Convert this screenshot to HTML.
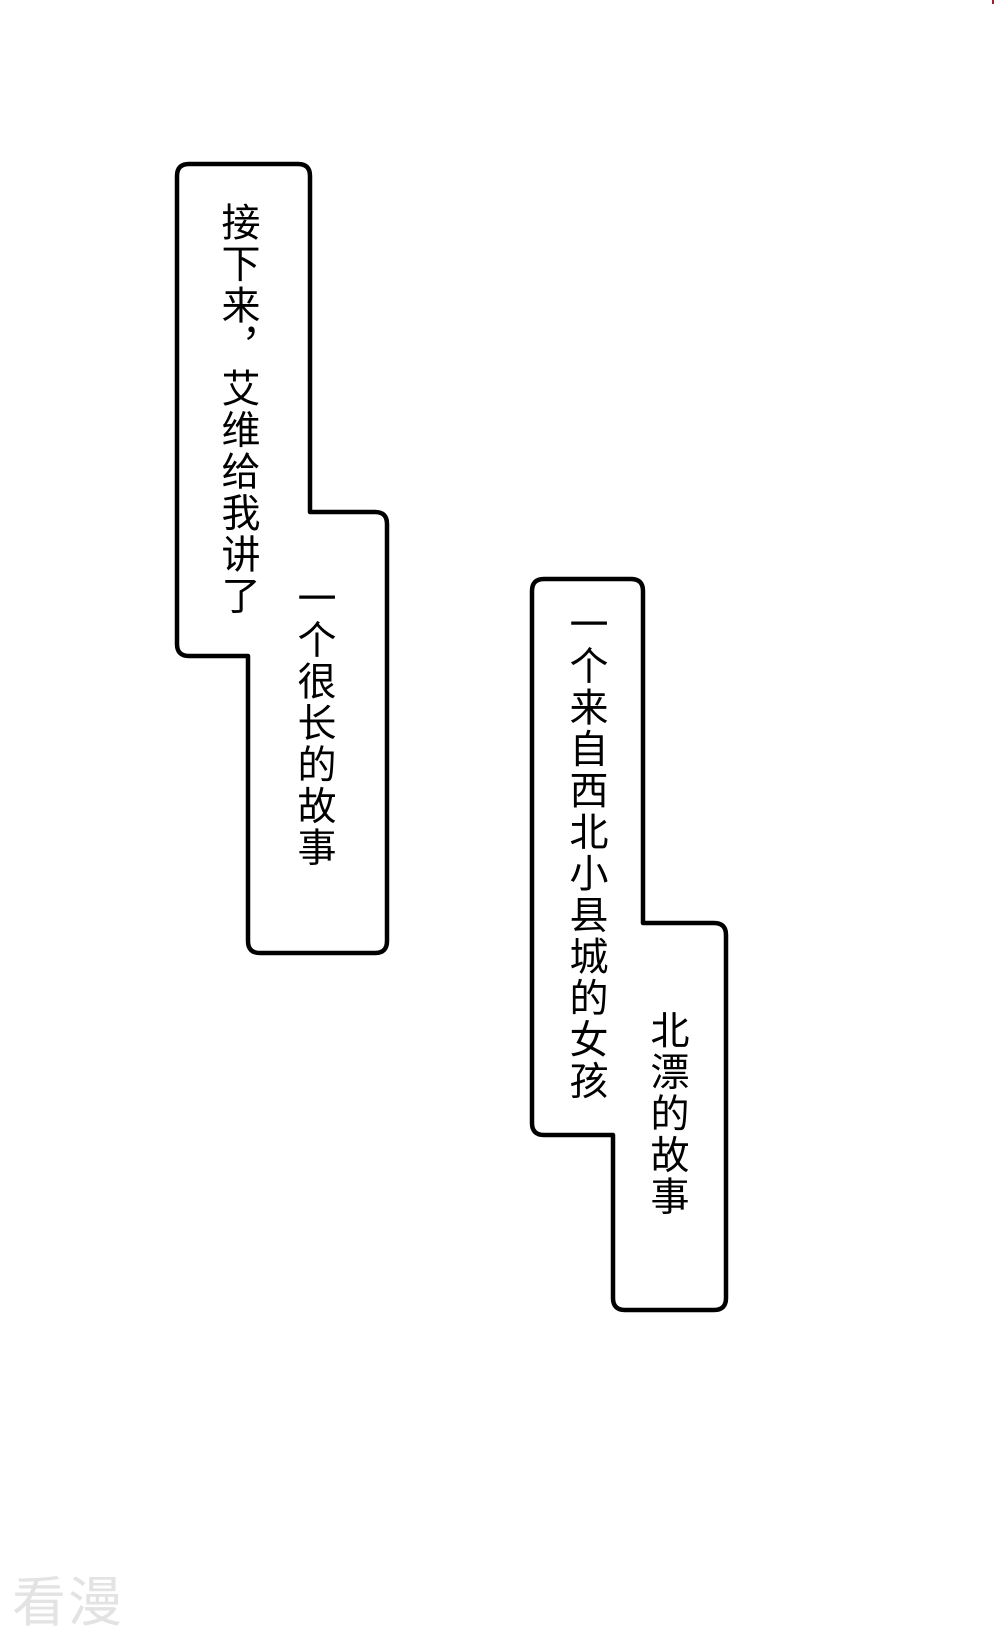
<!DOCTYPE html>
<html><head><meta charset="utf-8"><style>
html,body{margin:0;padding:0;background:#fff;}
body{width:1000px;height:1633px;position:relative;overflow:hidden;}
.t{position:absolute;writing-mode:vertical-rl;font-family:"Liberation Sans","Noto Sans CJK SC",sans-serif;font-size:39px;letter-spacing:2.5px;color:#000;line-height:1;white-space:nowrap;}
.wm{position:absolute;left:12px;top:1558px;font-family:"Noto Sans CJK SC",sans-serif;font-size:54px;color:#e3e3e3;letter-spacing:2px;}
</style></head><body>
<svg width="1000" height="1633" style="position:absolute;left:0;top:0">
<path d="M189,164 H298 Q310,164 310,176 V512 H375 Q387,512 387,524 V941 Q387,953 375,953 H260 Q248,953 248,941 V656 H189 Q177,656 177,644 V176 Q177,164 189,164 Z" fill="#fff" stroke="#000" stroke-width="4.5" stroke-linejoin="round"/>
<path d="M544,579 H631 Q643,579 643,591 V923 H714 Q726,923 726,935 V1298 Q726,1310 714,1310 H625 Q613,1310 613,1298 V1135 H544 Q532,1135 532,1123 V591 Q532,579 544,579 Z" fill="#fff" stroke="#000" stroke-width="4.5" stroke-linejoin="round"/>
<path d="M993,0 L993,4" stroke="#a02030" stroke-width="2"/>
</svg>
<div class="t" style="left:218px;top:202px;">接下来，艾维给我讲了</div>
<div class="t" style="left:294px;top:578px;">一个很长的故事</div>
<div class="t" style="left:566px;top:604px;">一个来自西北小县城的女孩</div>
<div class="t" style="left:647px;top:1010px;">北漂的故事</div>
<div class="wm">看漫</div>
</body></html>
